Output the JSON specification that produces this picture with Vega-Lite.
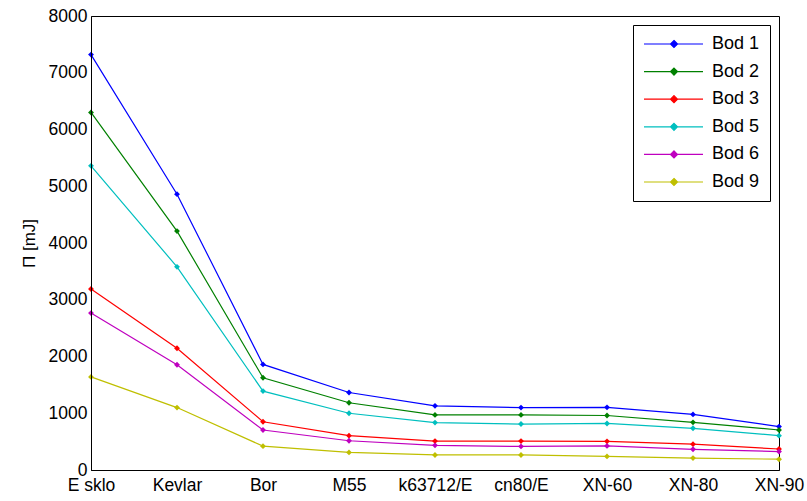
{
  "$schema": "https://vega.github.io/schema/vega-lite/v6.json",
  "width": 688,
  "height": 454,
  "autosize": {"type": "none"},
  "padding": {"left": 91, "top": 16, "right": 28, "bottom": 31},
  "background": "white",
  "config": {
    "font": "Liberation Sans",
    "view": {"stroke": "black", "strokeWidth": 1},
    "axis": {
      "grid": false,
      "domainColor": "black",
      "tickColor": "black",
      "tickWidth": 1,
      "labelColor": "black",
      "labelFont": "Liberation Sans",
      "labelFontSize": 17.5,
      "titleFont": "Liberation Sans",
      "titleFontSize": 17,
      "titleFontWeight": "normal",
      "titleColor": "black"
    }
  },
  "data": {
    "values": [
      {"m": "E sklo", "s": "Bod 1", "v": 7320}, {"m": "E sklo", "s": "Bod 2", "v": 6300}, {"m": "E sklo", "s": "Bod 3", "v": 3190}, {"m": "E sklo", "s": "Bod 5", "v": 5360}, {"m": "E sklo", "s": "Bod 6", "v": 2765}, {"m": "E sklo", "s": "Bod 9", "v": 1640},
      {"m": "Kevlar", "s": "Bod 1", "v": 4860}, {"m": "Kevlar", "s": "Bod 2", "v": 4210}, {"m": "Kevlar", "s": "Bod 3", "v": 2145}, {"m": "Kevlar", "s": "Bod 5", "v": 3580}, {"m": "Kevlar", "s": "Bod 6", "v": 1855}, {"m": "Kevlar", "s": "Bod 9", "v": 1100},
      {"m": "Bor", "s": "Bod 1", "v": 1860}, {"m": "Bor", "s": "Bod 2", "v": 1625}, {"m": "Bor", "s": "Bod 3", "v": 850}, {"m": "Bor", "s": "Bod 5", "v": 1390}, {"m": "Bor", "s": "Bod 6", "v": 705}, {"m": "Bor", "s": "Bod 9", "v": 420},
      {"m": "M55", "s": "Bod 1", "v": 1365}, {"m": "M55", "s": "Bod 2", "v": 1185}, {"m": "M55", "s": "Bod 3", "v": 605}, {"m": "M55", "s": "Bod 5", "v": 1000}, {"m": "M55", "s": "Bod 6", "v": 515}, {"m": "M55", "s": "Bod 9", "v": 310},
      {"m": "k63712/E", "s": "Bod 1", "v": 1130}, {"m": "k63712/E", "s": "Bod 2", "v": 970}, {"m": "k63712/E", "s": "Bod 3", "v": 510}, {"m": "k63712/E", "s": "Bod 5", "v": 835}, {"m": "k63712/E", "s": "Bod 6", "v": 435}, {"m": "k63712/E", "s": "Bod 9", "v": 265},
      {"m": "cn80/E", "s": "Bod 1", "v": 1100}, {"m": "cn80/E", "s": "Bod 2", "v": 970}, {"m": "cn80/E", "s": "Bod 3", "v": 510}, {"m": "cn80/E", "s": "Bod 5", "v": 810}, {"m": "cn80/E", "s": "Bod 6", "v": 415}, {"m": "cn80/E", "s": "Bod 9", "v": 265},
      {"m": "XN-60", "s": "Bod 1", "v": 1105}, {"m": "XN-60", "s": "Bod 2", "v": 960}, {"m": "XN-60", "s": "Bod 3", "v": 505}, {"m": "XN-60", "s": "Bod 5", "v": 820}, {"m": "XN-60", "s": "Bod 6", "v": 425}, {"m": "XN-60", "s": "Bod 9", "v": 240},
      {"m": "XN-80", "s": "Bod 1", "v": 980}, {"m": "XN-80", "s": "Bod 2", "v": 840}, {"m": "XN-80", "s": "Bod 3", "v": 455}, {"m": "XN-80", "s": "Bod 5", "v": 735}, {"m": "XN-80", "s": "Bod 6", "v": 365}, {"m": "XN-80", "s": "Bod 9", "v": 210},
      {"m": "XN-90", "s": "Bod 1", "v": 765}, {"m": "XN-90", "s": "Bod 2", "v": 705}, {"m": "XN-90", "s": "Bod 3", "v": 370}, {"m": "XN-90", "s": "Bod 5", "v": 605}, {"m": "XN-90", "s": "Bod 6", "v": 325}, {"m": "XN-90", "s": "Bod 9", "v": 190}
    ]
  },
  "encoding": {
    "color": {
      "field": "s",
      "type": "nominal",
      "scale": {
        "domain": ["Bod 1", "Bod 2", "Bod 3", "Bod 5", "Bod 6", "Bod 9"],
        "range": ["#0000FF", "#008000", "#FF0000", "#00BFBF", "#BF00BF", "#BFBF00"]
      },
      "legend": {
        "title": null,
        "orient": "none",
        "legendX": 542,
        "legendY": 9,
        "padding": 10,
        "strokeColor": "black",
        "fillColor": "white",
        "labelFont": "Liberation Sans",
        "labelFontSize": 18,
        "labelColor": "black",
        "labelOffset": 51,
        "rowPadding": 9.6,
        "symbolSize": 100,
        "symbolStrokeWidth": 1.2,
        "symbolType": "M-1.6,0L10.2,0M4.4,-0.7L5.1,0L4.4,0.7L3.7,0Z",
        "encode": {
          "symbols": {
            "update": {
              "fill": {"scale": "color", "field": "value"},
              "stroke": {"scale": "color", "field": "value"},
              "strokeWidth": {"value": 1.2},
              "opacity": {"value": 1}
            }
          }
        }
      }
    }
  },
  "layer": [
    {
      "mark": {"type": "line", "strokeWidth": 1.2},
      "encoding": {
        "x": {
          "field": "m",
          "type": "nominal",
          "sort": null,
          "scale": {"type": "point", "padding": 0},
          "axis": {"orient": "bottom", "title": null, "labelAngle": 0, "tickSize": 0, "labelPadding": 6, "domainWidth": 1, "zindex": 1,
            "encode": {"ticks": {"update": {"y2": {"value": -7}}}}}
        },
        "y": {
          "field": "v",
          "type": "quantitative",
          "scale": {"domain": [0, 8000], "nice": false, "zero": true},
          "axis": {"orient": "left", "title": "Π [mJ]", "format": "d", "values": [0, 1000, 2000, 3000, 4000, 5000, 6000, 7000, 8000], "tickSize": 0, "labelPadding": 4, "titlePadding": 10, "zindex": 1,
            "encode": {"ticks": {"update": {"x2": {"value": 7}}}}}
        }
      }
    },
    {
      "mark": {"type": "point", "shape": "diamond", "filled": true, "size": 34, "opacity": 1},
      "encoding": {
        "x": {
          "field": "m",
          "type": "nominal",
          "sort": null,
          "axis": {"orient": "top", "title": null, "labels": false, "tickSize": 0, "domain": false, "zindex": 1,
            "encode": {"ticks": {"update": {"y2": {"value": 7}}}}}
        },
        "y": {
          "field": "v",
          "type": "quantitative",
          "axis": {"orient": "right", "title": null, "labels": false, "values": [0, 1000, 2000, 3000, 4000, 5000, 6000, 7000, 8000], "tickSize": 0, "domain": false, "zindex": 1,
            "encode": {"ticks": {"update": {"x2": {"value": -7}}}}}
        }
      }
    }
  ],
  "resolve": {"axis": {"x": "independent", "y": "independent"}}
}
